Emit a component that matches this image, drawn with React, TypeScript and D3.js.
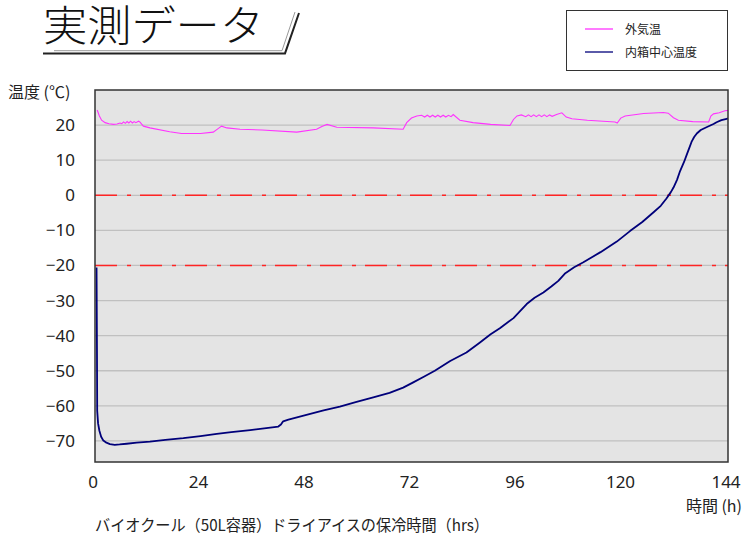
import { useMemo } from "react";
import * as d3 from "d3";

// 外気温 [hours, °C]
const outsideTemp: [number, number][] = [
  [0.5, 24.3], [1.0, 22.6], [1.5, 21.4], [2.3, 20.7], [3.2, 20.4], [4.2, 20.2],
  [5.0, 20.3], [5.7, 20.6], [6.1, 20.4], [6.5, 20.9], [6.9, 20.5], [7.3, 21.0],
  [7.7, 20.6], [8.1, 21.1], [8.5, 20.6], [8.9, 21.0], [9.3, 20.7], [9.9, 21.1],
  [10.2, 20.9], [11.0, 19.7], [12.5, 19.2], [17.0, 18.1], [19.7, 17.6],
  [24.0, 17.6], [26.9, 18.0], [28.0, 19.0], [28.8, 19.7], [30.0, 19.2],
  [33.0, 18.8], [38.0, 18.6], [45.9, 18.0], [50.4, 18.8], [51.6, 19.6],
  [52.8, 20.2], [55.0, 19.4], [63.3, 19.2], [70.1, 18.8], [70.9, 20.7],
  [72.0, 22.0], [73.2, 22.6], [74.3, 22.8], [75.0, 22.3], [75.6, 22.8],
  [76.2, 22.3], [76.8, 22.8], [77.4, 22.3], [78.0, 22.8], [78.6, 22.3],
  [79.2, 22.8], [79.8, 22.3], [80.4, 22.8], [81.0, 22.4], [81.5, 23.0],
  [83.0, 21.4], [86.0, 20.7], [90.0, 20.2], [94.4, 19.9], [95.2, 21.6],
  [96.0, 22.6], [97.0, 22.9], [98.0, 22.4], [98.6, 22.9], [99.2, 22.4],
  [99.8, 22.9], [100.4, 22.4], [101.0, 22.9], [101.6, 22.4], [102.2, 22.9],
  [102.8, 22.4], [103.4, 22.9], [104.0, 22.5], [105.0, 23.0], [106.2, 23.5],
  [107.2, 22.3], [108.5, 21.8], [112.0, 21.4], [118.3, 20.9], [118.8, 20.6],
  [119.6, 22.0], [120.6, 22.6], [124.8, 23.3], [129.3, 23.6], [130.4, 23.4],
  [131.6, 22.1], [132.7, 21.4], [136.0, 21.0], [139.6, 20.9], [140.1, 22.6],
  [140.7, 23.2], [142.0, 23.5], [143.3, 24.1], [144.0, 24.2],
];

// 内箱中心温度 [hours, °C]
const innerTemp: [number, number][] = [
  [0.35, -20.6], [0.45, -45.0], [0.5, -61.4], [0.7, -65.0], [1.0, -67.1],
  [1.4, -68.8], [1.9, -69.9], [2.6, -70.5], [3.4, -70.9], [4.5, -71.1],
  [5.6, -71.0], [7.2, -70.8], [9.5, -70.5], [12.5, -70.2], [16.0, -69.7],
  [20.1, -69.2], [24.0, -68.6], [27.7, -68.0], [31.0, -67.5], [35.3, -66.9],
  [38.5, -66.4], [41.7, -65.9], [42.3, -65.3], [42.8, -64.4], [44.0, -63.9],
  [48.1, -62.6], [52.0, -61.3], [55.7, -60.2], [59.5, -58.9], [63.3, -57.6],
  [67.0, -56.3], [70.1, -54.8], [72.4, -53.3], [74.8, -51.7], [77.3, -50.0],
  [80.8, -47.2], [84.5, -44.8], [87.5, -42.0], [90.0, -39.6], [92.1, -37.9],
  [95.2, -35.0], [98.2, -31.0], [100.0, -29.2], [102.0, -27.7], [103.8, -26.0],
  [105.4, -24.4], [107.0, -22.2], [109.0, -20.5], [111.1, -19.1], [115.0, -16.2],
  [118.7, -13.2], [121.7, -10.2], [124.5, -7.6], [127.0, -4.9], [128.7, -3.0],
  [130.0, -0.9], [131.0, 0.9], [131.6, 2.2], [132.4, 4.4], [133.1, 6.9],
  [134.0, 9.5], [134.6, 11.5], [135.2, 13.5], [135.7, 15.2], [136.3, 16.6],
  [136.9, 17.6], [137.8, 18.6], [139.1, 19.4], [140.7, 20.3], [141.4, 20.8],
  [142.5, 21.4], [143.7, 21.8], [144.0, 21.9],
];

const yTicks = [20, 10, 0, -10, -20, -30, -40, -50, -60, -70];
const xTicks = [0, 24, 48, 72, 96, 120, 144];
const refLines = [0, -20];
const legendItems = [
  { label: "外気温", color: "#ff33ff" },
  { label: "内箱中心温度", color: "#00007a" },
];

const W = 744;
const H = 537;
const plot = { left: 95, right: 728, top: 90, bottom: 462 };
const jp = "'Noto Sans CJK JP', 'Noto Sans', sans-serif";
const num = "'Noto Sans', 'DejaVu Sans', sans-serif";

function fmt(v: number) {
  return v < 0 ? `\u2212${Math.abs(v)}` : `${v}`;
}

export default function App() {
  const x = useMemo(() => d3.scaleLinear().domain([0, 144]).range([plot.left, plot.right]), []);
  const y = useMemo(() => d3.scaleLinear().domain([-76, 30]).range([plot.bottom, plot.top]), []);
  const line = d3.line<[number, number]>().x(d => x(d[0])).y(d => y(d[1]));

  return (
    <svg width={W} height={H} style={{ position: "absolute", left: 0, top: 0, background: "#fff" }}>
      {/* タイトル */}
      <text x={43} y={41} fontSize={42} fontWeight={300} fontFamily={jp} fill="#111" textLength={221} lengthAdjust="spacingAndGlyphs">実測データ</text>
      <polyline points="54,50.7 282,50.7 295,12" fill="none" stroke="#999" strokeWidth={1} />
      <polyline points="43,53.4 285,53.4 299,13" fill="none" stroke="#222" strokeWidth={2} />

      {/* 凡例 */}
      <rect x={566.5} y={10.5} width={161} height={60} fill="#fff" stroke="#333" strokeWidth={1} />
      {legendItems.map((d, i) => (
        <g key={d.label}>
          <line x1={585} x2={613} y1={29 + i * 23} y2={29 + i * 23} stroke={d.color} strokeWidth={1.3} />
          <text x={625} y={33.5 + i * 23} fontSize={12} fontFamily={jp} fill="#222">{d.label}</text>
        </g>
      ))}

      {/* 背景とグリッド */}
      <rect x={plot.left} y={plot.top} width={plot.right - plot.left} height={plot.bottom - plot.top} fill="#e4e4e4" />
      {yTicks.map(t => (
        <line key={t} x1={plot.left} x2={plot.right} y1={y(t)} y2={y(t)} stroke="#c0c0c0" strokeWidth={1.3} />
      ))}
      {refLines.map(t => (
        <line key={t} x1={plot.left} x2={plot.right} y1={y(t)} y2={y(t)}
          stroke="#ff2424" strokeWidth={1.5} strokeDasharray="22,10,4,9" />
      ))}

      {/* 系列 */}
      <path d={line(outsideTemp) ?? ""} fill="none" stroke={legendItems[0].color} strokeWidth={1.1} />
      <path d={line(innerTemp) ?? ""} fill="none" stroke={legendItems[1].color} strokeWidth={1.8} strokeLinejoin="round" />

      {/* 枠 */}
      <rect x={plot.left} y={plot.top} width={plot.right - plot.left} height={plot.bottom - plot.top}
        fill="none" stroke="#333" strokeWidth={1.5} />

      {/* 軸ラベル */}
      {yTicks.map(t => (
        <text key={t} x={75} y={y(t) + 6} textAnchor="end" fontSize={17} fontFamily={num} fill="#222">{fmt(t)}</text>
      ))}
      {xTicks.map(t => (
        <text key={t} x={x(t) - 2} y={488} textAnchor="middle" fontSize={17} fontFamily={num} fill="#222">{t}</text>
      ))}
      <text x={8} y={98} fontSize={16} fontFamily={jp} fill="#222">温度 (℃)</text>
      <text x={742} y={512} textAnchor="end" fontSize={16} fontFamily={jp} fill="#222">時間 (h)</text>
      <text x={95} y={531} fontSize={16} fontFamily={jp} fill="#222" textLength={394} lengthAdjust="spacingAndGlyphs">
        バイオクール（50L容器）ドライアイスの保冷時間（hrs）
      </text>
    </svg>
  );
}
